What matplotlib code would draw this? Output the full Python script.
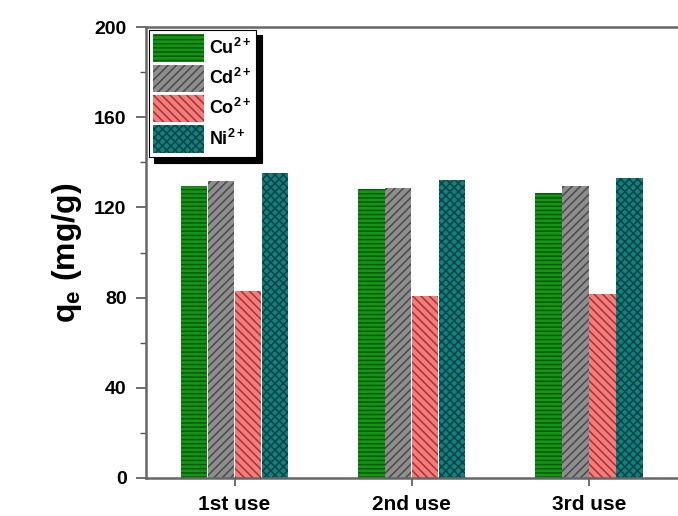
import numpy as np
import matplotlib
matplotlib.use("Agg")
import matplotlib.pyplot as plt
from matplotlib.ticker import MultipleLocator

# adsorption capacity per reuse cycle, mg/g
cycles = ["1st use", "2nd use", "3rd use"]
cu = [129.5, 128.3, 126.5]
cd = [131.7, 128.8, 129.5]
co = [83.1, 80.6, 81.5]
ni = [135.1, 132.1, 133.0]

ions = [r"Cu$^{2+}$", r"Cd$^{2+}$", r"Co$^{2+}$", r"Ni$^{2+}$"]

plt.rcParams["font.family"] = ["Liberation Sans", "DejaVu Sans"]
plt.rcParams["font.weight"] = "bold"
plt.rcParams["mathtext.fontset"] = "custom"
plt.rcParams["mathtext.rm"] = "Liberation Sans:bold"
plt.rcParams["mathtext.bf"] = "Liberation Sans:bold"
plt.rcParams["mathtext.it"] = "Liberation Sans:bold"
plt.rcParams["mathtext.default"] = "bf"
plt.rcParams["hatch.linewidth"] = 1.1

fig = plt.figure(figsize=(6.78, 5.16), dpi=100)
# right edge of the frame runs just past the canvas
ax = fig.add_axes([146 / 678, 1 - 478 / 516, (690 - 146) / 678, (478 - 27) / 516])

# face colour, hatch colour, hatch pattern for each ion
styles = [
    ("#159515", "#075a07", "----"),
    ("#8e8e8e", "#4a4a4a", "////"),
    ("#f27d7d", "#a83232", "\\\\\\\\"),
    ("#137f7f", "#0a4444", "xxxx"),
]

x = np.arange(len(cycles))
width = 0.148
step = 0.152
for i, (vals, lab) in enumerate(zip([cu, cd, co, ni], ions)):
    fc, hc, hatch = styles[i]
    ax.bar(x + (i - 1.5) * step, vals, width, facecolor=fc, edgecolor=hc,
           hatch=hatch, linewidth=0, label=lab)

ax.set_xlim(-0.5, 2.57)
ax.set_ylim(0, 200)
ax.set_xticks(x)
ax.set_xticklabels(cycles, fontsize=15, fontweight="bold")
ax.yaxis.set_major_locator(MultipleLocator(40))
ax.yaxis.set_minor_locator(MultipleLocator(20))
ax.tick_params(axis="y", labelsize=14, length=7, width=1.2, color="#555555", pad=7)
ax.tick_params(axis="y", which="minor", length=4, width=1.0, color="#555555")
ax.tick_params(axis="x", length=6, width=1.2, color="#555555", pad=6)
for sp in ax.spines.values():
    sp.set_color("#666666")
    sp.set_linewidth(1.8)

ax.set_ylabel(r"q$_\mathbf{e}$ (mg/g)", fontsize=23, fontweight="bold", labelpad=7)

leg = ax.legend(loc="upper left", fontsize=13, handlelength=2.8, handleheight=1.95,
                labelspacing=0.17, handletextpad=0.3, borderpad=0.25,
                borderaxespad=0.15, fancybox=False, framealpha=1,
                edgecolor="black", shadow={"color": "black", "alpha": 1, "ox": 4, "oy": -4})
leg.get_frame().set_linewidth(0.8)

fig.savefig("out.png", dpi=100)
